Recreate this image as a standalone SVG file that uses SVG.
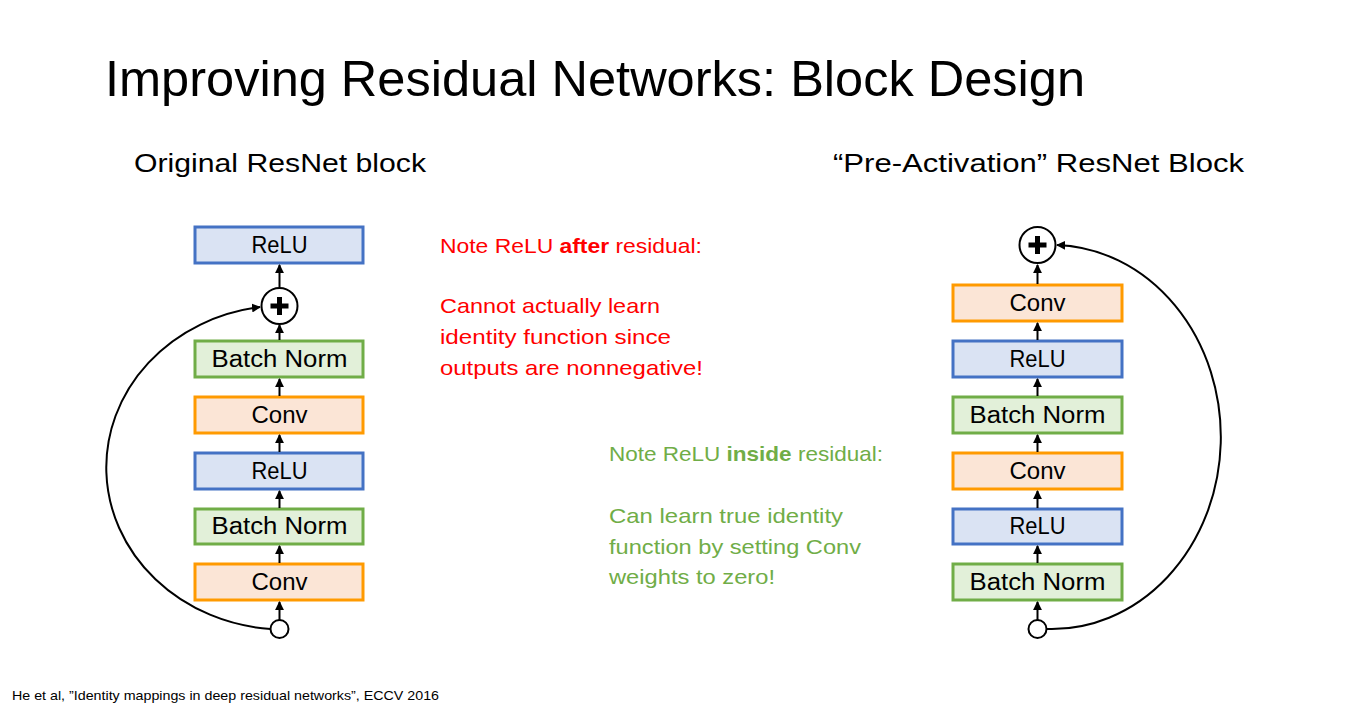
<svg xmlns="http://www.w3.org/2000/svg" width="1359" height="711" viewBox="0 0 1359 711">
  <defs>
    <marker id="arrow" viewBox="0 0 10 10" refX="9" refY="5" markerWidth="4.5" markerHeight="4.5" orient="auto" markerUnits="strokeWidth">
      <path d="M0,0 L10,5 L0,10 Z" fill="#000"/>
    </marker>
    <style>
      .title { font-family: "Liberation Sans", Arial, sans-serif; font-size: 50px; fill: #000; }
      .sub { font-family: "Liberation Sans", Arial, sans-serif; font-size: 26px; fill: #000; }
      .lbl { font-family: "Liberation Sans", Arial, sans-serif; font-size: 23px; fill: #000; text-anchor: middle; }
      .note { font-family: "Liberation Sans", Arial, sans-serif; font-size: 21px; }
      .red { fill: #FF0000; }
      .green { fill: #70AD47; }
      .cite { font-family: "Liberation Sans", Arial, sans-serif; font-size: 13px; fill: #000; }
      .relu { fill: #DAE3F3; stroke: #4472C4; stroke-width: 3; }
      .bn { fill: #E2F0D9; stroke: #70AD47; stroke-width: 3; }
      .conv { fill: #FBE5D6; stroke: #FF9A00; stroke-width: 3; }
      .node { fill: #fff; stroke: #000; stroke-width: 2; }
      .plus { stroke: #000; stroke-width: 5; }
      .edge { fill: none; stroke: #000; stroke-width: 2; marker-end: url(#arrow); }
    </style>
  </defs>

  <rect width="1359" height="711" fill="#fff"/>

  <text class="title" x="105" y="96" textLength="980" lengthAdjust="spacingAndGlyphs">Improving Residual Networks: Block Design</text>
  <text class="sub" x="134" y="172" textLength="292" lengthAdjust="spacingAndGlyphs">Original ResNet block</text>
  <text class="sub" x="833" y="172" textLength="411" lengthAdjust="spacingAndGlyphs">“Pre-Activation” ResNet Block</text>

  <!-- Original block -->
  <g id="orig-relu-out"><rect class="relu" x="195" y="227" width="168" height="36"/><text class="lbl" x="279.5" y="253" textLength="56" lengthAdjust="spacingAndGlyphs">ReLU</text></g>
  <g id="orig-add"><circle class="node" cx="279.5" cy="306" r="18"/><path class="plus" d="M270.5,306 H288.5 M279.5,297 V315"/></g>
  <g id="orig-bn2"><rect class="bn" x="195" y="341" width="168" height="36"/><text class="lbl" x="279.5" y="367" textLength="136" lengthAdjust="spacingAndGlyphs">Batch Norm</text></g>
  <g id="orig-conv2"><rect class="conv" x="195" y="397" width="168" height="36"/><text class="lbl" x="279.5" y="423" textLength="56" lengthAdjust="spacingAndGlyphs">Conv</text></g>
  <g id="orig-relu"><rect class="relu" x="195" y="453" width="168" height="36"/><text class="lbl" x="279.5" y="479" textLength="56" lengthAdjust="spacingAndGlyphs">ReLU</text></g>
  <g id="orig-bn1"><rect class="bn" x="195" y="509" width="168" height="35"/><text class="lbl" x="279.5" y="534" textLength="136" lengthAdjust="spacingAndGlyphs">Batch Norm</text></g>
  <g id="orig-conv1"><rect class="conv" x="195" y="564" width="168" height="36"/><text class="lbl" x="279.5" y="590" textLength="56" lengthAdjust="spacingAndGlyphs">Conv</text></g>
  <g id="orig-input"><circle class="node" cx="279.5" cy="629" r="9"/></g>

  <!-- Pre-activation block -->
  <g id="pre-add"><circle class="node" cx="1037.5" cy="245" r="18"/><path class="plus" d="M1028.5,245 H1046.5 M1037.5,236 V254"/></g>
  <g id="pre-conv2"><rect class="conv" x="953" y="285" width="169" height="36"/><text class="lbl" x="1037.5" y="311" textLength="56" lengthAdjust="spacingAndGlyphs">Conv</text></g>
  <g id="pre-relu2"><rect class="relu" x="953" y="341" width="169" height="36"/><text class="lbl" x="1037.5" y="367" textLength="56" lengthAdjust="spacingAndGlyphs">ReLU</text></g>
  <g id="pre-bn2"><rect class="bn" x="953" y="397" width="169" height="36"/><text class="lbl" x="1037.5" y="423" textLength="136" lengthAdjust="spacingAndGlyphs">Batch Norm</text></g>
  <g id="pre-conv1"><rect class="conv" x="953" y="453" width="169" height="36"/><text class="lbl" x="1037.5" y="479" textLength="56" lengthAdjust="spacingAndGlyphs">Conv</text></g>
  <g id="pre-relu1"><rect class="relu" x="953" y="509" width="169" height="35"/><text class="lbl" x="1037.5" y="534" textLength="56" lengthAdjust="spacingAndGlyphs">ReLU</text></g>
  <g id="pre-bn1"><rect class="bn" x="953" y="564" width="169" height="36"/><text class="lbl" x="1037.5" y="590" textLength="136" lengthAdjust="spacingAndGlyphs">Batch Norm</text></g>
  <g id="pre-input"><circle class="node" cx="1037.5" cy="629" r="9"/></g>

  <!-- Connectors -->
  <g id="connectors">
    <path class="edge" d="M279.5,620 V602"/>
    <path class="edge" d="M279.5,563 V546"/>
    <path class="edge" d="M279.5,508 V491"/>
    <path class="edge" d="M279.5,452 V435"/>
    <path class="edge" d="M279.5,396 V379"/>
    <path class="edge" d="M279.5,340 V325"/>
    <path class="edge" d="M279.5,287 V265"/>
    <path class="edge" d="M270.5,629 A178 162 0 0 1 260,307"/>

    <path class="edge" d="M1037.5,620 V602"/>
    <path class="edge" d="M1037.5,563 V546"/>
    <path class="edge" d="M1037.5,508 V491"/>
    <path class="edge" d="M1037.5,452 V435"/>
    <path class="edge" d="M1037.5,396 V379"/>
    <path class="edge" d="M1037.5,340 V323"/>
    <path class="edge" d="M1037.5,284 V265"/>
    <path class="edge" d="M1046.5,629 A169 192 0 0 0 1057,245"/>
  </g>

  <!-- Notes -->
  <text class="note red" x="440" y="253" textLength="262" lengthAdjust="spacingAndGlyphs">Note ReLU <tspan font-weight="bold">after</tspan> residual:</text>
  <text class="note red" x="440" y="313" textLength="220" lengthAdjust="spacingAndGlyphs">Cannot actually learn</text>
  <text class="note red" x="440" y="344" textLength="231" lengthAdjust="spacingAndGlyphs">identity function since</text>
  <text class="note red" x="440" y="375" textLength="263" lengthAdjust="spacingAndGlyphs">outputs are nonnegative!</text>

  <text class="note green" x="609" y="461" textLength="274" lengthAdjust="spacingAndGlyphs">Note ReLU <tspan font-weight="bold">inside</tspan> residual:</text>
  <text class="note green" x="609" y="523" textLength="234" lengthAdjust="spacingAndGlyphs">Can learn true identity</text>
  <text class="note green" x="609" y="554" textLength="252" lengthAdjust="spacingAndGlyphs">function by setting Conv</text>
  <text class="note green" x="609" y="584" textLength="166" lengthAdjust="spacingAndGlyphs">weights to zero!</text>

  <text class="cite" x="12" y="700" textLength="427" lengthAdjust="spacingAndGlyphs">He et al, ”Identity mappings in deep residual networks”, ECCV 2016</text>
</svg>
